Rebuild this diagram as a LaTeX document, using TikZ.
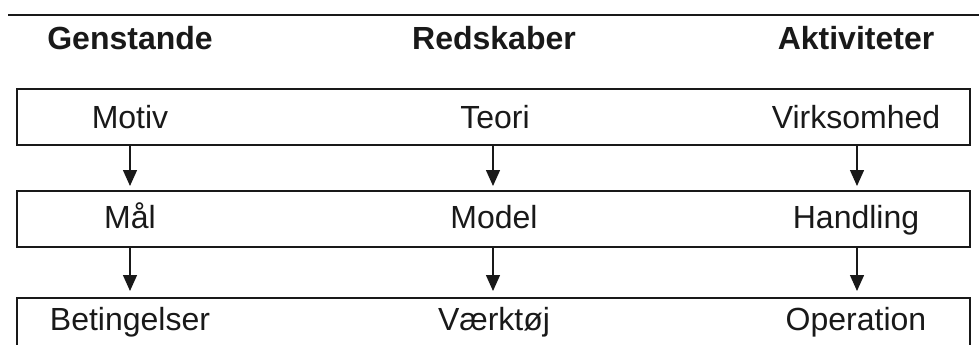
\documentclass[tikz,border=0pt]{standalone}
\usepackage{fontspec}
\setmainfont{Liberation Sans}
\usetikzlibrary{arrows.meta}
\begin{document}
\begin{tikzpicture}[x=1pt,y=-1pt,
  rowbox/.style={draw=black!90, line width=1.8pt, rectangle, minimum width=953pt, inner sep=0pt, outer sep=0pt, anchor=north west},
  lbl/.style={anchor=base, inner sep=0pt, font=\fontsize{32}{38}\selectfont, text=black!90},
  hdr/.style={lbl, font=\fontsize{32}{38}\selectfont\bfseries},
  arr/.style={line width=1.4pt, draw=black!90, -{Triangle[width=14pt,length=16pt]}}
]
\clip (0,0) rectangle (979,345);
% top rule
\coordinate (tl) at (8,15);
\coordinate (tr) at (979,15);
\draw[line width=1.8pt, black!90] (tl) -- (tr);
% headers
\node[hdr] (h1) at (130,50) {Genstande};
\node[hdr] (h2) at (494,50) {Redskaber};
\node[hdr] (h3) at (856,50) {Aktiviteter};
% boxes
\node[rowbox, minimum height=56pt] (b1) at (17,89) {};
\node[rowbox, minimum height=56pt] (b2) at (17,191) {};
\node[rowbox, minimum height=90pt] (b3) at (17,298) {};
% labels
\node[lbl] (m1) at (130,128) {Motiv};
\node[lbl] (m2) at (495,128) {Teori};
\node[lbl] (m3) at (856,128) {Virksomhed};
\node[lbl] (n1) at (130,228) {Mål};
\node[lbl] (n2) at (494,228) {Model};
\node[lbl] (n3) at (856,228) {Handling};
\node[lbl] (o1) at (130,330) {Betingelser};
\node[lbl] (o2) at (494,330) {Værktøj};
\node[lbl] (o3) at (856,330) {Operation};
% column coordinates
\coordinate (c1) at (130,0);
\coordinate (c2) at (493,0);
\coordinate (c3) at (857,0);
% arrows
\foreach \c in {c1,c2,c3}{
  \draw[arr] (b1.south -| \c) -- ([yshift=5pt]b2.north -| \c);
  \draw[arr] (b2.south -| \c) -- ([yshift=7pt]b3.north -| \c);
}
\end{tikzpicture}
\end{document}
